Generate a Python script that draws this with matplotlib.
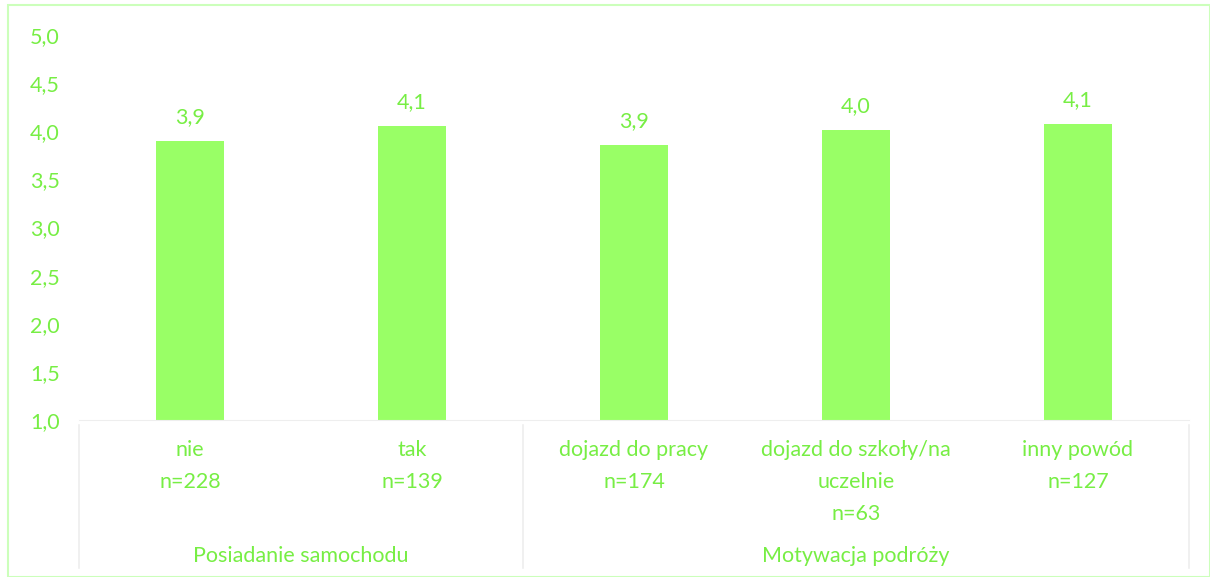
import matplotlib.pyplot as plt
from matplotlib.patches import Rectangle
import numpy as np

plt.rcParams['font.family'] = ['Lato', 'DejaVu Sans']

categories = ['nie', 'tak', 'dojazd do pracy', 'dojazd do szkoły/na\nuczelnie', 'inny powód']
counts = [228, 139, 174, 63, 127]
values = [3.9, 4.05, 3.86, 4.01, 4.08]
shown = ['3,9', '4,1', '3,9', '4,0', '4,1']
groups = ['Posiadanie samochodu', 'Motywacja podróży']
group_sizes = [2, 3]
yticks = [1.0, 1.5, 2.0, 2.5, 3.0, 3.5, 4.0, 4.5, 5.0]

bar_col = '#99ff66'
txt_col = '#77ee44'
fs = 15.5

fig = plt.figure(figsize=(12.1, 5.77), dpi=100)
ax = fig.add_axes([0.0653, 0.2721, 0.9173, 0.6672])

x = np.arange(len(categories))
ax.bar(x, np.array(values) - 1.0, bottom=1.0, width=0.31, color=bar_col)

for xi, v, s in zip(x, values, shown):
    ax.annotate(s, (xi, v), xytext=(0, 10), textcoords='offset points',
                ha='center', va='bottom', color=txt_col, fontsize=fs)

ax.set_xlim(-0.5, len(categories) - 0.5)
ax.set_ylim(1.0, 5.0)
ax.set_yticks(yticks)
ax.set_yticklabels([f'{t:.1f}'.replace('.', ',') for t in yticks], color=txt_col, fontsize=fs)
ax.tick_params(axis='y', length=0, pad=14)
ax.set_xticks([])
for side in ['top', 'right', 'left']:
    ax.spines[side].set_visible(False)
ax.spines['bottom'].set_color('#eeeeee')

tr = ax.get_xaxis_transform()
for xi, cat, n in zip(x, categories, counts):
    ax.text(xi, -0.052, f'{cat}\nn={n}', transform=tr, ha='center', va='top',
            color=txt_col, fontsize=fs, linespacing=1.75)

edges = [-0.5]
for g in group_sizes:
    edges.append(edges[-1] + g)
for i, g in enumerate(groups):
    ax.text((edges[i] + edges[i + 1]) / 2, -0.352, g, transform=tr, ha='center',
            va='center', color=txt_col, fontsize=fs)
for e in edges:
    ax.plot([e, e], [-0.013, -0.384], transform=tr, color='#eeeeee', lw=1.2, clip_on=False)

fig.patches.append(Rectangle((0.007, 0.0), 0.993, 0.991, transform=fig.transFigure,
                             fill=False, edgecolor='#ccffbb', lw=1.5))

plt.savefig('out.png')
